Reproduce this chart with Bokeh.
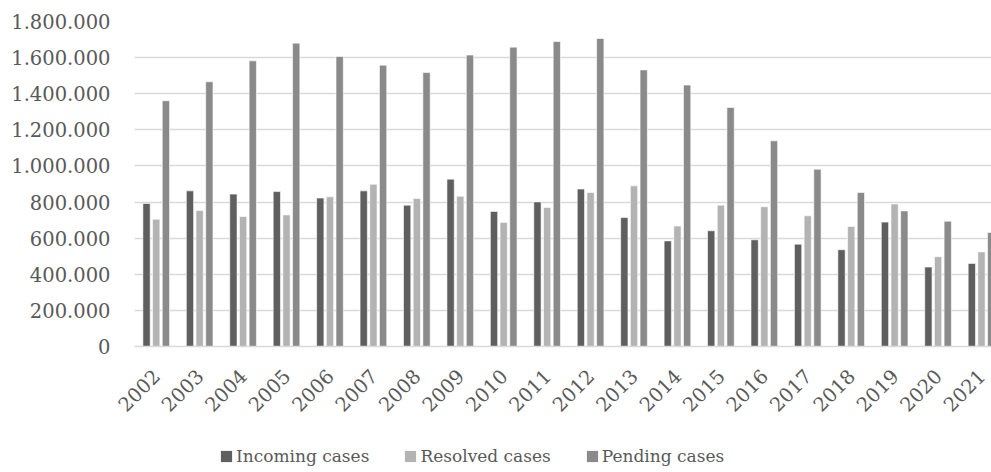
import math
from bokeh.plotting import figure
from bokeh.layouts import column
from bokeh.models import ColumnDataSource, Range1d, FixedTicker, Legend, LegendItem
from bokeh.transform import dodge
from bokeh.embed import file_html
from bokeh.resources import INLINE

years = list(range(2002, 2022))
year_labels = [str(y) for y in years]
incoming = [792000, 862000, 844000, 858000, 822000, 862000, 783000, 927000, 748000, 801000,
            872000, 714000, 585000, 641000, 591000, 567000, 536000, 689000, 440000, 460000]
resolved = [705000, 753000, 720000, 729000, 829000, 899000, 820000, 832000, 687000, 770000,
            853000, 890000, 667000, 783000, 774000, 724000, 665000, 789000, 497000, 524000]
pending = [1361000, 1466000, 1582000, 1680000, 1606000, 1558000, 1517000, 1614000, 1658000, 1689000,
           1706000, 1532000, 1448000, 1324000, 1139000, 982000, 853000, 751000, 694000, 631000]
series_names = ["Incoming cases", "Resolved cases", "Pending cases"]
series_colors = ["#5f5f5f", "#b3b3b3", "#8a8a8a"]
y_ticks = [0, 200000, 400000, 600000, 800000, 1000000, 1200000, 1400000, 1600000, 1800000]
y_tick_labels = ["0", "200.000", "400.000", "600.000", "800.000", "1.000.000",
                 "1.200.000", "1.400.000", "1.600.000", "1.800.000"]

FONT = "DejaVu Serif"
TXT = "#595959"
GRID = "#d9d9d9"

src = ColumnDataSource(dict(year=years, incoming=incoming, resolved=resolved, pending=pending))

p = figure(width=991, height=425, output_backend="svg", toolbar_location=None,
           x_range=Range1d(2001.5, 2021.23), y_range=Range1d(0, 1800000),
           min_border_left=134, min_border_right=0, min_border_top=21, min_border_bottom=79)
p.outline_line_color = None
p.background_fill_color = "white"
p.border_fill_color = "white"

cols = ["incoming", "resolved", "pending"]
offsets = [-0.223, 0.0, 0.223]
for col, off, color in zip(cols, offsets, series_colors):
    p.vbar(x=dodge("year", off, range=p.x_range), top=col, width=0.168, source=src,
           fill_color=color, line_color="white", line_width=0.6)

# axes
p.xaxis.ticker = FixedTicker(ticks=years)
p.xaxis.major_label_overrides = {y: lab for y, lab in zip(years, year_labels)}
p.xaxis.major_label_orientation = math.pi / 4
p.xaxis.major_tick_line_color = None
p.xaxis.minor_tick_line_color = None
p.xaxis.axis_line_color = GRID
p.xaxis.axis_line_width = 1.3
p.xaxis.major_label_text_font = FONT
p.xaxis.major_label_text_font_size = "19.5px"
p.xaxis.major_label_text_color = TXT
p.xaxis.major_label_standoff = 20

p.yaxis.ticker = FixedTicker(ticks=y_ticks)
p.yaxis.major_label_overrides = {t: lab for t, lab in zip(y_ticks, y_tick_labels)}
p.yaxis.axis_line_color = None
p.yaxis.major_tick_line_color = None
p.yaxis.minor_tick_line_color = None
p.yaxis.major_tick_out = 0
p.yaxis.major_label_text_font = FONT
p.yaxis.major_label_text_font_size = "19.5px"
p.yaxis.major_label_text_color = TXT
p.yaxis.major_label_standoff = 24

p.xgrid.grid_line_color = None
p.ygrid.grid_line_color = GRID
p.ygrid.grid_line_width = 1.3
p.ygrid.ticker = FixedTicker(ticks=y_ticks)

# legend strip below the chart (zero-height proxy bars only carry the legend swatches)
lg = figure(width=991, height=47, output_backend="svg", toolbar_location=None,
            x_range=Range1d(0, 991), y_range=Range1d(0, 47),
            min_border_left=0, min_border_right=0, min_border_top=0, min_border_bottom=0)
lg.axis.visible = False
lg.grid.visible = False
lg.outline_line_color = None
lg.border_fill_color = "white"
lg_src = ColumnDataSource(dict(x=[0], top=[0]))
lg_renderers = [lg.vbar(x="x", top="top", width=0.001, source=lg_src,
                        fill_color=c, line_color=None) for c in series_colors]
legend = Legend(items=[LegendItem(label=n, renderers=[r]) for n, r in zip(series_names, lg_renderers)],
                orientation="horizontal", location=(85, 6),
                glyph_width=14, glyph_height=14, label_standoff=3, spacing=34,
                label_text_font=FONT, label_text_font_size="17px", label_text_color=TXT,
                label_height=20, padding=0, margin=0, border_line_color=None,
                background_fill_alpha=0)
lg.add_layout(legend, "center")

layout = column(p, lg, spacing=0)
open("out.html", "w").write(file_html(layout, INLINE))
